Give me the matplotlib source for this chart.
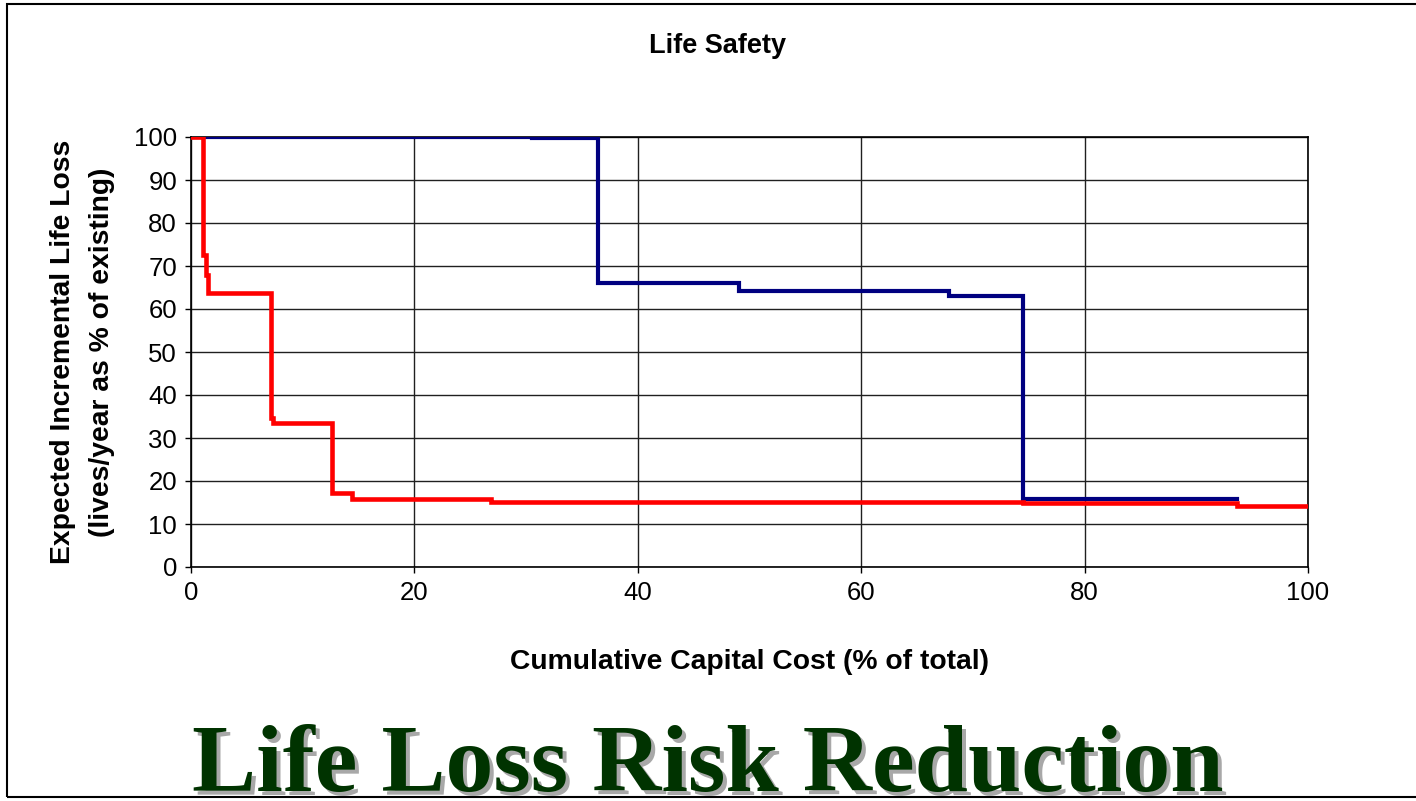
import matplotlib

matplotlib.use("Agg")
import matplotlib.pyplot as plt
from matplotlib.patches import Rectangle
from matplotlib.transforms import offset_copy

# step data (x = cumulative cost %, y = life loss %)
blue_x = [0, 30.5, 36.4, 49.1, 67.9, 74.5, 93.6]
blue_y = [100, 99.7, 66.0, 64.3, 63.0, 15.7, 15.7]

red_x = [0, 1.07, 1.3, 1.55, 7.2, 7.35, 12.6, 14.4, 26.9, 74.5, 93.6, 100]
red_y = [100, 72.6, 67.9, 63.7, 34.6, 33.5, 17.2, 15.8, 15.2, 14.9, 14.2, 14.2]

x_ticks = [0, 20, 40, 60, 80, 100]
y_ticks = list(range(0, 101, 10))

plt.rcParams["font.family"] = ["Liberation Sans", "DejaVu Sans"]

fig = plt.figure(figsize=(14.16, 8.01), dpi=100)
ax = fig.add_axes([191 / 1416, 1 - 567 / 801, (1308 - 191) / 1416, (567 - 137) / 801])

ax.plot(blue_x, blue_y, drawstyle="steps-post", color="#000080", lw=3.0,
        solid_joinstyle="miter", zorder=3)
ax.plot(red_x, red_y, drawstyle="steps-post", color="#ff0000", lw=3.3,
        solid_joinstyle="miter", zorder=4)

ax.set_xlim(0, 100)
ax.set_ylim(0, 100)
ax.set_xticks(x_ticks)
ax.set_yticks(y_ticks)
ax.grid(True, color="#202020", lw=1.0)
ax.set_axisbelow(True)
for spine in ax.spines.values():
    spine.set_color("black")
    spine.set_linewidth(1.2)
ax.tick_params(direction="out", length=4, width=1, labelsize=18.5, pad=6)

ax.set_xlabel("Cumulative Capital Cost (% of total)", fontsize=20.3,
              fontweight="bold", labelpad=32)
ax.set_ylabel("Expected Incremental Life Loss\n(lives/year as % of existing)",
              fontsize=20.3, fontweight="bold", labelpad=14, linespacing=1.65)

fig.text(0.507, 1 - 46 / 801, "Life Safety", ha="center", va="center",
         fontsize=19.5, fontweight="bold")

# outer chart frame
fig.patches.append(Rectangle((7 / 1416, 4 / 801), 1.1, 1 - 8 / 801,
                             transform=fig.transFigure, fill=False,
                             edgecolor="black", lw=1.5))

# slide title with drop shadow
title_kw = dict(ha="center", va="baseline", fontsize=69, fontweight="bold",
                family=["Liberation Serif", "DejaVu Serif"])
shadow_tr = offset_copy(fig.transFigure, fig=fig, x=3.0, y=-3.0, units="points")
fig.text(0.4996, 0.013, "Life Loss Risk Reduction", color="#a8a8a8",
         transform=shadow_tr, **title_kw)
fig.text(0.4996, 0.013, "Life Loss Risk Reduction", color="#003300", **title_kw)

fig.savefig("out.png", dpi=100)
